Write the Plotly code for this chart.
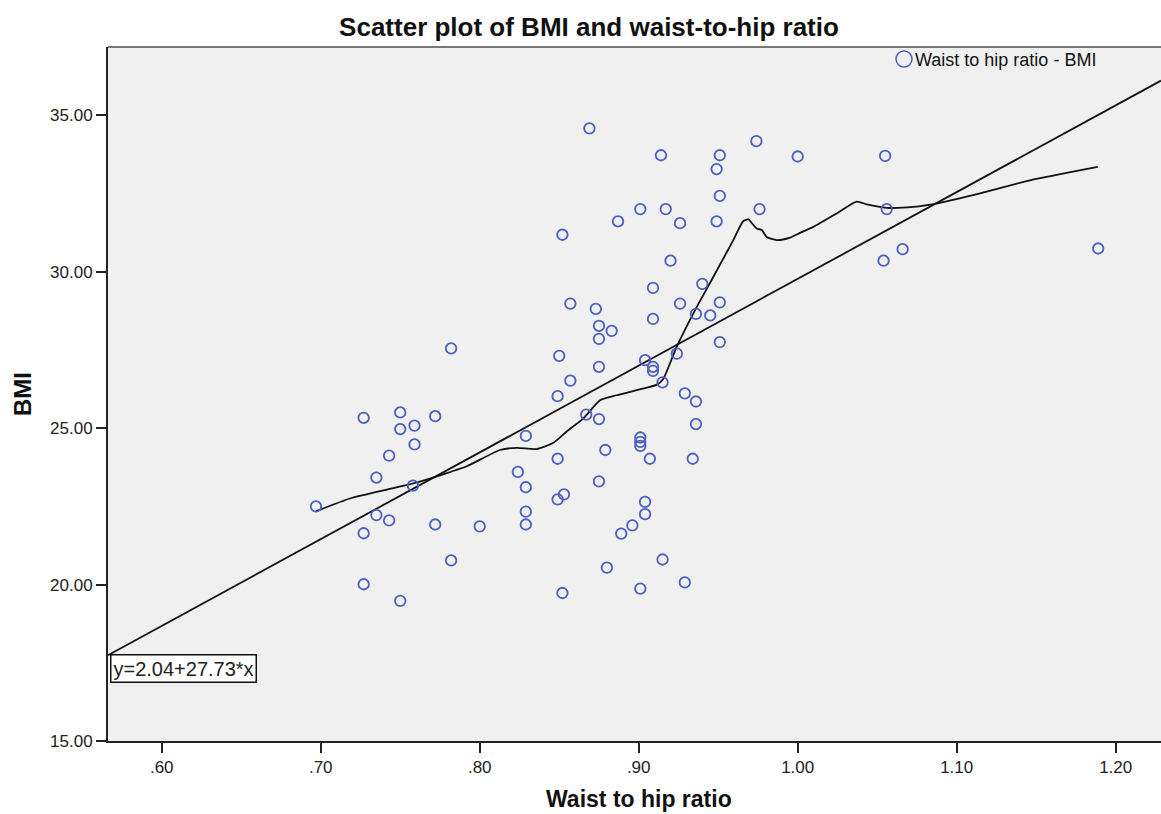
import plotly.graph_objects as go

# ---- data ----
whr = [0.697, 0.727, 0.750, 0.750, 0.759, 0.772, 0.759, 0.743, 0.735, 0.758,
       0.735, 0.743, 0.727, 0.772, 0.800, 0.782, 0.727, 0.750, 0.782, 0.829,
       0.824, 0.829, 0.829, 0.829, 0.849, 0.849, 0.849, 0.853, 0.852, 0.857,
       0.867, 0.875, 0.879, 0.875, 0.901, 0.901, 0.901, 0.907, 0.934, 0.904,
       0.904, 0.896, 0.889, 0.915, 0.880, 0.901, 0.929, 0.915, 0.929, 0.936,
       0.936, 0.869, 0.914, 0.951, 0.949, 0.974, 1.000, 0.951, 0.901, 0.917,
       0.976, 0.887, 0.926, 0.949, 0.852, 0.920, 0.940, 0.909, 0.857, 0.873,
       0.926, 0.951, 0.936, 0.945, 0.909, 0.875, 0.883, 0.875, 0.951, 0.850,
       0.904, 0.924, 0.875, 0.909, 0.909, 1.055, 1.056, 1.066, 1.054, 1.189]
bmi = [22.50, 25.33, 25.50, 24.97, 25.08, 25.38, 24.48, 24.12, 23.42, 23.16,
       22.22, 22.05, 21.64, 21.92, 21.86, 20.77, 20.01, 19.48, 27.55, 24.75,
       23.60, 23.11, 22.33, 21.92, 26.02, 24.02, 22.72, 22.88, 19.73, 26.52,
       25.43, 25.29, 24.30, 23.30, 24.70, 24.56, 24.43, 24.02, 24.02, 22.64,
       22.25, 21.89, 21.63, 20.80, 20.54, 19.87, 20.07, 26.46, 26.11, 25.85,
       25.13, 34.58, 33.72, 33.72, 33.28, 34.17, 33.68, 32.42, 32.00, 32.00,
       32.00, 31.61, 31.55, 31.61, 31.18, 30.35, 29.61, 29.48, 28.98, 28.81,
       28.98, 29.02, 28.65, 28.60, 28.49, 28.27, 28.11, 27.85, 27.75, 27.31,
       27.17, 27.38, 26.96, 26.96, 26.83, 33.70, 32.00, 30.72, 30.35, 30.74]

loess_x = [0.6969, 0.7184, 0.7394, 0.7582, 0.7750, 0.7918, 0.8128, 0.8233,
           0.8358, 0.8463, 0.8547, 0.8652, 0.8757, 0.8862, 0.9008, 0.9115,
           0.9153, 0.9239, 0.9343, 0.9469, 0.9595, 0.9658, 0.9689, 0.9742,
           0.9774, 0.9805, 0.9868, 0.9952, 1.0015, 1.0098, 1.0245, 1.0371,
           1.0434, 1.0560, 1.0727, 1.0895, 1.1147, 1.1461, 1.1887]
loess_y = [22.34, 22.75, 23.01, 23.23, 23.49, 23.78, 24.30, 24.37,
           24.33, 24.53, 24.89, 25.31, 25.89, 26.05, 26.24, 26.39,
           26.56, 27.60, 28.66, 29.83, 31.01, 31.62, 31.67, 31.38,
           31.33, 31.11, 31.01, 31.09, 31.24, 31.43, 31.86, 32.24,
           32.15, 32.04, 32.07, 32.20, 32.50, 32.92, 33.35]

fit_intercept = 2.04
fit_slope = 27.73

x_range = [0.5662, 1.2285]
y_range = [15.0, 37.18]
x_ticks = [0.6, 0.7, 0.8, 0.9, 1.0, 1.1, 1.2]
x_ticklabels = [".60", ".70", ".80", ".90", "1.00", "1.10", "1.20"]
y_ticks = [15, 20, 25, 30, 35]
y_ticklabels = ["15.00", "20.00", "25.00", "30.00", "35.00"]

FONT = "Liberation Sans, Arial, sans-serif"
MARK = "#4A5FBF"

fit_x = list(x_range)
fit_y = [fit_intercept + fit_slope * v for v in fit_x]

fig = go.Figure()
fig.add_trace(go.Scatter(
    x=fit_x, y=fit_y, mode="lines",
    line=dict(color="#111111", width=1.8), showlegend=False, hoverinfo="skip"))
fig.add_trace(go.Scatter(
    x=loess_x, y=loess_y, mode="lines",
    line=dict(color="#111111", width=1.8, shape="spline", smoothing=0.6),
    showlegend=False, hoverinfo="skip"))
fig.add_trace(go.Scatter(
    x=whr, y=bmi, mode="markers", name="Waist to hip ratio - BMI",
    marker=dict(symbol="circle-open", size=10.5, color=MARK,
                line=dict(width=1.8, color=MARK)),
    showlegend=False))

W, H = 1161, 814
L, R, T, B = 108, 0, 47, 73
pw, ph = W - L - R, H - T - B

def px_x(p):
    return (p - L) / pw

def px_y(p):
    return (H - B - p) / ph

fig.update_layout(
    width=W, height=H,
    margin=dict(l=L, r=R, t=T, b=B),
    paper_bgcolor="white", plot_bgcolor="#F0F0F0",
    font=dict(family=FONT, size=17, color="#222222"),
    title=dict(text="<b>Scatter plot of BMI and waist-to-hip ratio</b>",
               x=px_x(589), xref="paper", xanchor="center",
               y=1 - 27 / H, yanchor="middle",
               font=dict(family=FONT, size=26, color="#111111")),
    xaxis=dict(range=x_range, tickvals=x_ticks, ticktext=x_ticklabels,
               showgrid=False, zeroline=False, showline=True,
               linecolor="#222222", linewidth=2, ticks="outside",
               ticklen=10, tickwidth=2, tickcolor="#222222",
               tickfont=dict(size=17, color="#222222")),
    yaxis=dict(range=y_range, tickvals=y_ticks, ticktext=y_ticklabels,
               showgrid=False, zeroline=False, showline=True,
               linecolor="#222222", linewidth=2, ticks="outside",
               ticklen=10, tickwidth=2, tickcolor="#222222",
               tickfont=dict(size=17, color="#222222")),
    showlegend=False,
)

# top border of the frame
fig.add_shape(type="line", xref="paper", yref="paper", x0=0, x1=1, y0=1, y1=1,
              line=dict(color="#777777", width=2))

# axis titles
fig.add_annotation(text="<b>Waist to hip ratio</b>", xref="paper", yref="paper",
                   x=px_x(639), y=px_y(799), showarrow=False,
                   xanchor="center", yanchor="middle",
                   font=dict(family=FONT, size=23, color="#111111"))
fig.add_annotation(text="<b>BMI</b>", xref="paper", yref="paper",
                   x=px_x(22), y=px_y(394), showarrow=False, textangle=-90,
                   xanchor="center", yanchor="middle",
                   font=dict(family=FONT, size=24, color="#111111"))

# legend (circle + text)
cx, cy, r = 904, 59, 8
fig.add_shape(type="circle", xref="paper", yref="paper",
              x0=px_x(cx - r), x1=px_x(cx + r), y0=px_y(cy + r), y1=px_y(cy - r),
              line=dict(color=MARK, width=1.5), fillcolor="rgba(0,0,0,0)")
fig.add_annotation(text="Waist to hip ratio - BMI", xref="paper", yref="paper",
                   x=px_x(913), y=px_y(60), showarrow=False,
                   xanchor="left", yanchor="middle",
                   font=dict(family=FONT, size=18, color="#111111"))

# regression equation box
fig.add_annotation(text="y=2.04+27.73*x", xref="paper", yref="paper",
                   x=px_x(110), y=px_y(654), showarrow=False,
                   xanchor="left", yanchor="top",
                   bgcolor="white", bordercolor="#111111", borderwidth=1.5,
                   borderpad=2,
                   font=dict(family=FONT, size=20, color="#222222"))

fig.write_html("out.html", config={"displayModeBar": False},
               post_script="document.body.style.margin='0px';")
